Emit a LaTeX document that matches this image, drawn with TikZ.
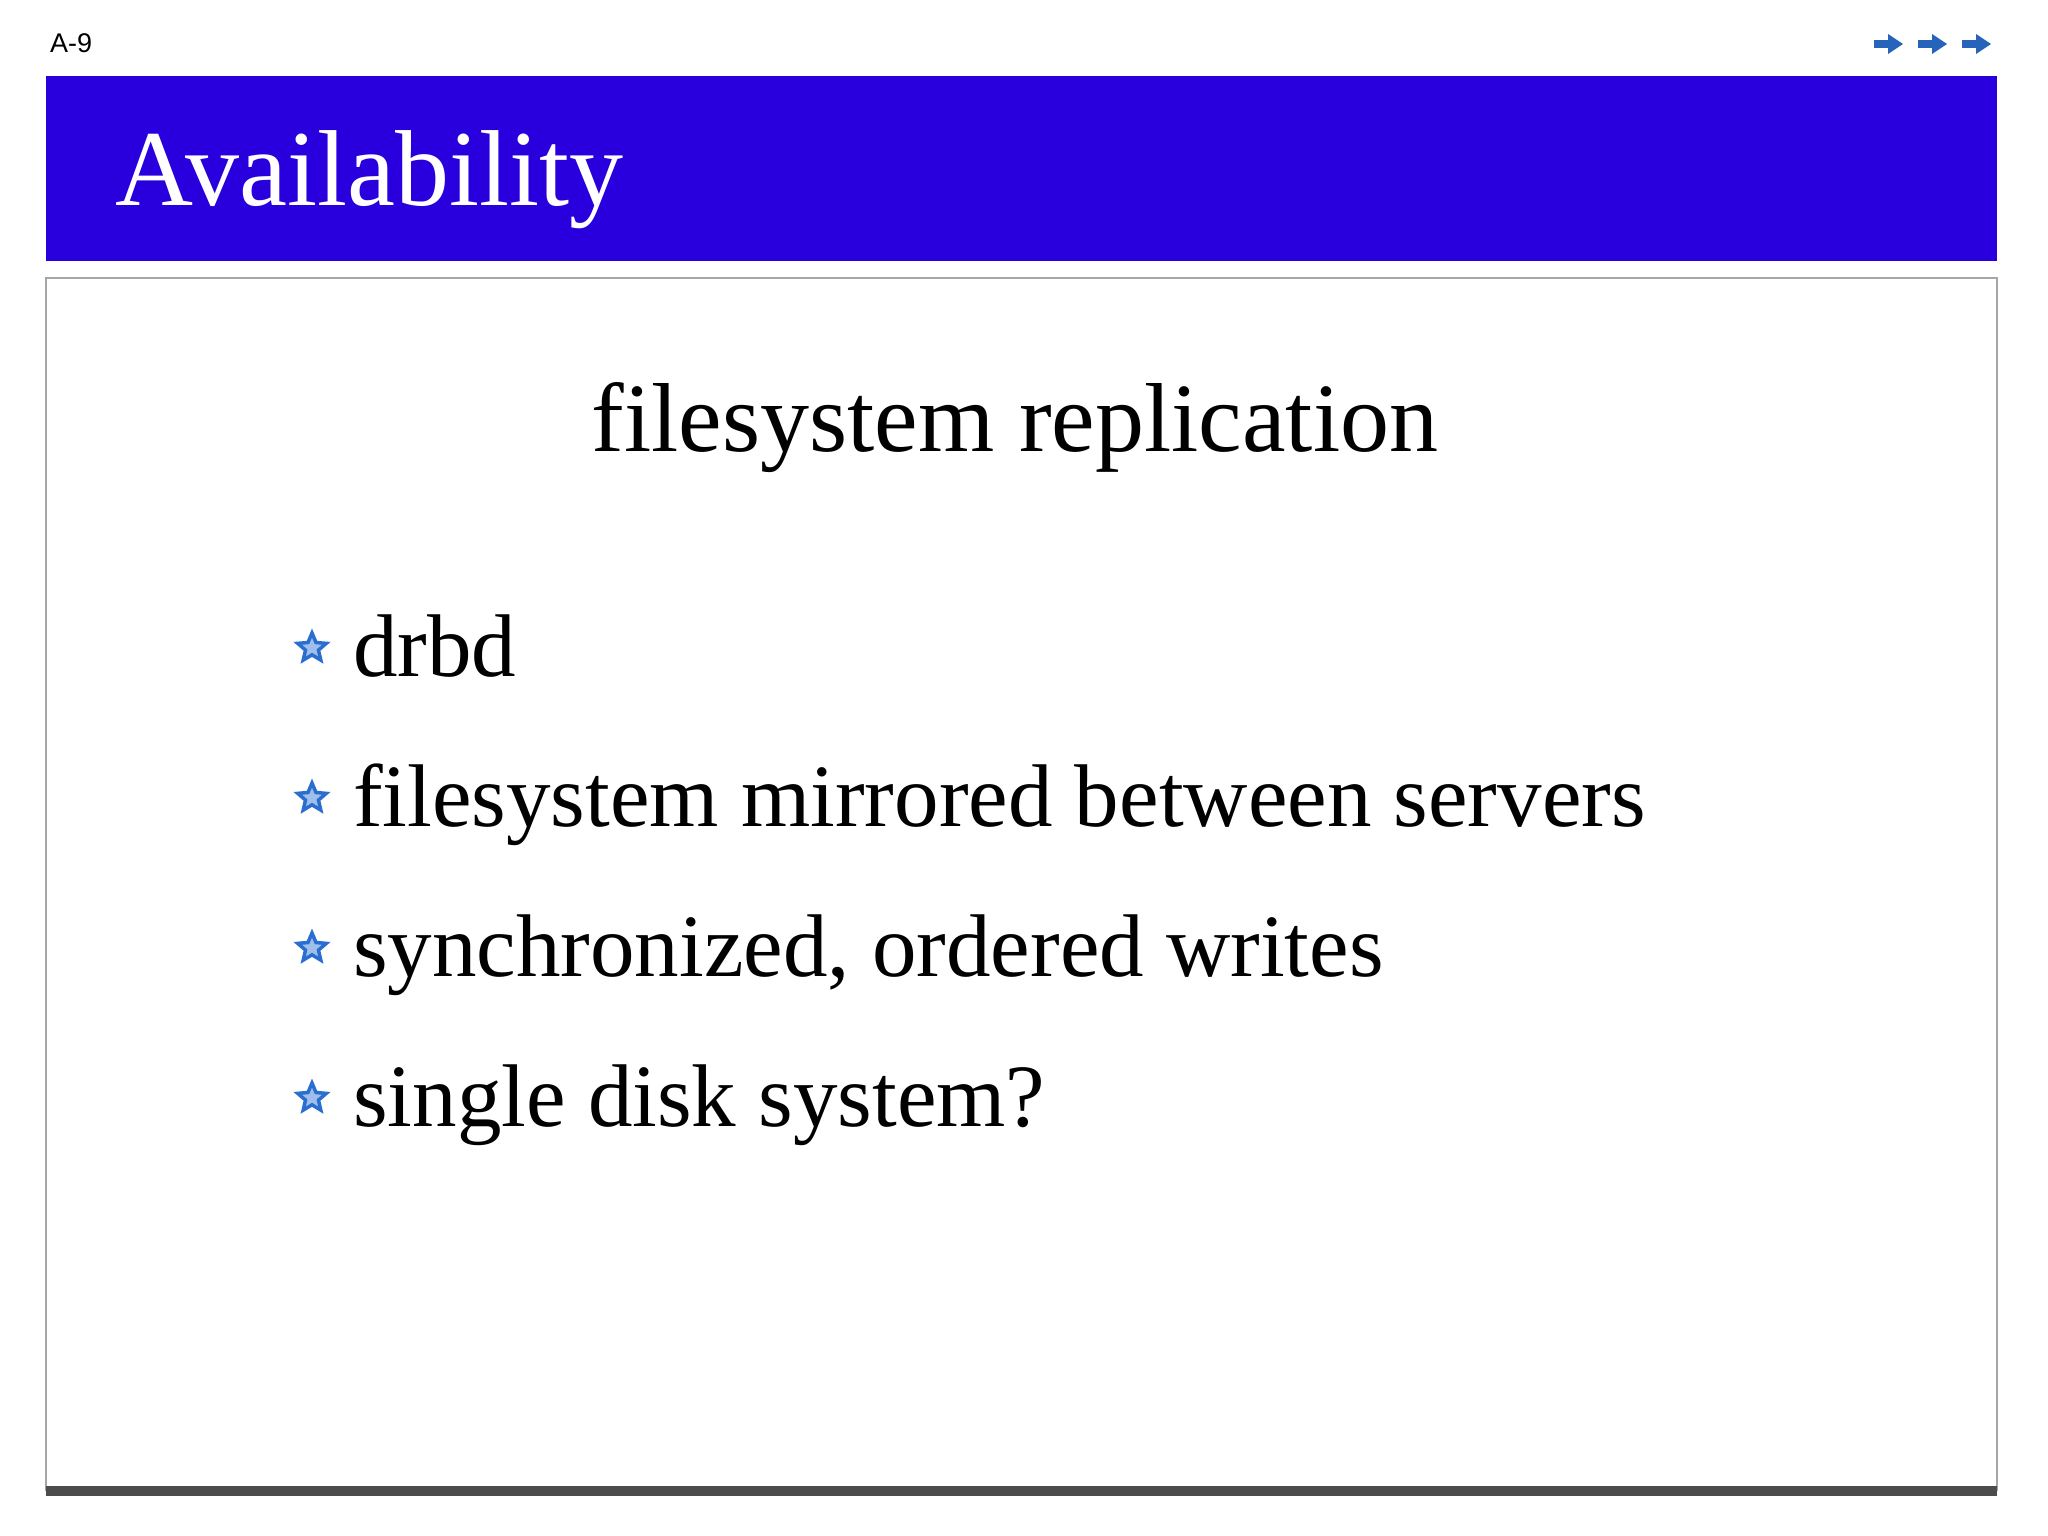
\documentclass[tikz,border=0pt]{standalone}
\usepackage{fontspec}
\setmainfont{Liberation Serif}
\newfontfamily\smallsans{Liberation Sans}
\usetikzlibrary{shapes.geometric}
\definecolor{barblue}{HTML}{2900DD}
\definecolor{starblue}{HTML}{2A6FD0}
\tikzset{
  bodytext/.style={anchor=base west,inner sep=0,font=\fontsize{89}{95}\selectfont},
  bullet/.style={star,star points=5,star point ratio=2.2,draw=starblue,fill=starblue!45,line width=3.5pt,minimum size=30pt,inner sep=0},
  navarrow/.style={fill=starblue!90!black,draw=none}
}
\begin{document}
\begin{tikzpicture}[x=1pt,y=-1pt]
\useasboundingbox (0,0) rectangle (2048,1535);
\node[anchor=base west,inner sep=0,font=\smallsans\fontsize{27}{29}\selectfont] (pg) at (50,52) {A-9};
\foreach \i/\x in {1/1874,2/1918,3/1962}{
  \fill[navarrow] (\x,40) rectangle (\x+18,48);
  \fill[navarrow] (\x+14,34) -- (\x+29,44) -- (\x+14,54) -- cycle;
}
\fill[barblue] (46,76) rectangle (1997,261);
\node[anchor=base west,inner sep=0,text=white,font=\fontsize{108}{112}\selectfont] (title) at (115,205) {Availability};
\draw[gray!70,line width=1.2pt] (46,278) rectangle (1997,1490);
\fill[black!70] (46,1486) rectangle (1997,1496);
\node[anchor=base,inner sep=0,font=\fontsize{98}{102}\selectfont] (sub) at (1015,451) {filesystem replication};
\foreach \n/\y/\t in {a/676/drbd,b/826/filesystem mirrored between servers,c/976/{synchronized, ordered writes},d/1126/single disk system?}{
  \node[bullet] (s\n) at (312,\y-28) {};
  \node[bodytext] (t\n) at (353,\y) {\t};
}
\end{tikzpicture}
\end{document}
